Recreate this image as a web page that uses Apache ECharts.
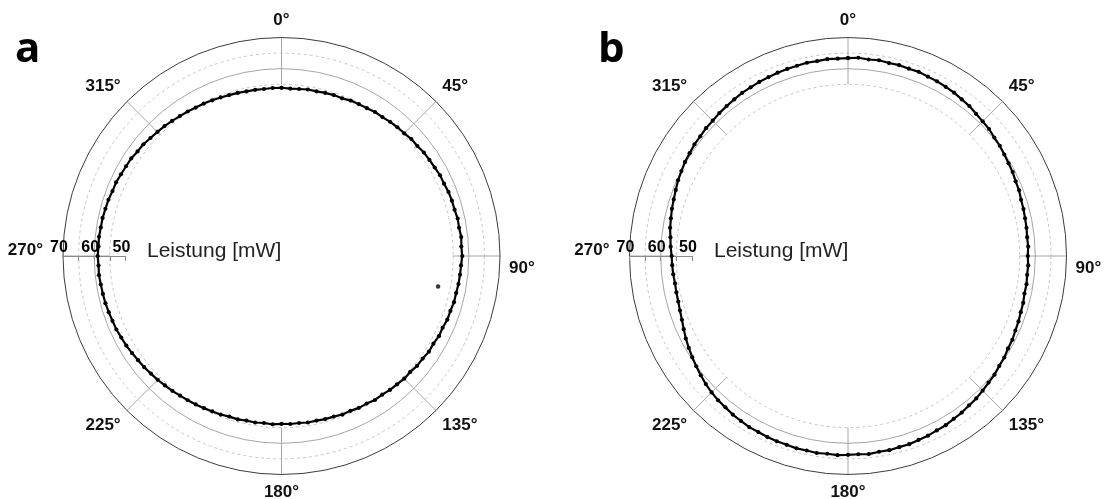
<!DOCTYPE html>
<html><head><meta charset="utf-8">
<script src="https://cdn.jsdelivr.net/npm/echarts@6/dist/echarts.min.js"></script>
<style>html,body{margin:0;padding:0;background:#fff}#c{width:1104px;height:499px}</style>
</head><body><div id="c"></div>
<script>
// angle (degrees, clockwise from top) of each measurement
const angles = [0,3,6,9,12,15,18,21,24,27,30,33,36,39,42,45,48,51,54,57,60,63,66,69,72,75,78,81,84,87,
  90,93,96,99,102,105,108,111,114,117,120,123,126,129,132,135,138,141,144,147,150,153,156,159,162,165,168,171,174,177,
  180,183,186,189,192,195,198,201,204,207,210,213,216,219,222,225,228,231,234,237,240,243,246,249,252,255,258,261,264,267,
  270,273,276,279,282,285,288,291,294,297,300,303,306,309,312,315,318,321,324,327,330,333,336,339,342,345,348,351,354,357];
// Leistung [mW], panel a
const powerA = [53.9,53.7,53.8,54.0,53.9,54.1,54.2,54.1,54.5,54.6,54.7,55.0,55.0,55.3,55.5,55.6,56.0,56.0,56.4,56.5,56.7,57.0,57.0,57.3,57.4,57.4,57.7,57.6,57.9,57.7,
  57.9,57.6,57.5,57.4,57.2,57.2,56.9,56.9,56.5,56.6,56.2,56.3,55.9,55.9,55.5,55.6,55.3,55.2,54.9,55.0,54.6,54.6,54.3,54.4,54.1,54.1,53.9,54.0,53.8,53.9,
  53.8,54.0,53.8,54.0,53.9,54.2,54.1,54.4,54.5,54.7,54.9,55.1,55.3,55.6,55.8,56.1,56.3,56.6,56.8,57.1,57.4,57.6,57.9,58.0,58.2,58.4,58.5,58.6,58.8,58.7,
  58.9,58.7,58.8,58.6,58.6,58.4,58.3,58.0,58.0,57.7,57.5,57.4,57.0,56.9,56.5,56.2,56.0,55.7,55.4,55.2,54.9,54.8,54.6,54.4,54.2,54.1,53.9,53.9,53.8,53.9];
// single stray point in panel a: [power, angle]
const strayA = [[51.1, 101]];
// Leistung [mW], panel b
const powerB = [63.4,63.6,63.3,63.5,63.2,63.3,63.1,63.2,62.9,62.8,62.6,62.4,62.0,61.8,61.3,61.0,60.8,60.3,60.1,59.7,59.4,59.2,58.8,58.7,58.3,58.2,58.0,57.9,57.7,57.8,
  57.6,57.8,57.7,57.9,57.8,58.1,58.2,58.5,58.7,59.1,59.2,59.7,59.9,60.4,60.6,61.0,61.4,61.6,62.0,62.2,62.6,62.7,63.0,63.1,63.4,63.4,63.6,63.5,63.8,63.6,
  63.7,63.9,63.7,63.9,63.7,63.8,63.6,63.6,63.5,63.3,63.3,63.0,62.8,62.4,62.2,61.8,61.3,60.7,60.1,59.5,58.9,58.3,57.6,57.0,56.6,56.3,56.2,56.1,56.3,56.4,
  56.5,56.9,57.2,57.7,58.0,58.4,58.7,59.1,59.6,59.9,60.3,60.5,60.8,60.9,61.2,61.3,61.6,61.8,62.0,62.3,62.4,62.6,62.7,62.9,63.0,63.1,63.3,63.2,63.4,63.3];
const radialLabels = [50, 60, 70];
const dashedRings = [55, 65];
const solidRing = 60;
const radialMax = 70;
const radialAxisMin = 50;
const spokeMin = 55;
const angleTickStep = 45;
const axisName = 'Leistung [mW]';
const panelLetters = ['a', 'b'];

const R = 218.5;
const CY = 256;
const panels = [
  {cx: 281.5, values: powerA, extra: strayA, letterX: 15, nameX: 147},
  {cx: 848, values: powerB, extra: [], letterX: 598, nameX: 714}
];

const polar = [], angleAxis = [], radiusAxis = [], series = [], graphic = [];
const hidden = {axisLine:{show:false}, axisTick:{show:false}, axisLabel:{show:false}, splitLine:{show:false}};
const degRich = {
  d: {color:'#111', fontWeight:'bold', fontSize:17, fontFamily:'Liberation Sans'},
  up: {color:'#111', fontWeight:'bold', fontSize:17, fontFamily:'Liberation Sans', padding:[0,11,12,0]},
  down: {color:'#111', fontWeight:'bold', fontSize:17, fontFamily:'Liberation Sans', padding:[24,0,0,0]}
};

panels.forEach((p, k) => {
  const b = k * 4;
  const center = [p.cx, CY];
  // 0: data polar
  polar.push({center, radius: R});
  angleAxis.push({polarIndex: b, type:'value', min:0, max:360, interval:angleTickStep, startAngle:90, clockwise:true,
    axisLine:{show:true, lineStyle:{color:'#3c3c3c', width:1}}, axisTick:{show:false}, splitLine:{show:false},
    axisLabel:{show:true, margin:9, rich:degRich,
      formatter: v => v === 270 ? '{up|' + v + '°}' : (v === 90 ? '{down|' + v + '°}' : '{d|' + v + '°}')}});
  radiusAxis.push(Object.assign({polarIndex: b, type:'value', min:0, max:radialMax}, hidden));
  // 1: annulus for spokes and dashed rings
  polar.push({center, radius: [R * spokeMin / radialMax, R]});
  angleAxis.push({polarIndex: b+1, type:'value', min:0, max:360, interval:angleTickStep, startAngle:90, clockwise:true,
    axisLine:{show:false}, axisTick:{show:false}, axisLabel:{show:false},
    splitLine:{show:true, lineStyle:{color:'#a6a6a6', width:1}}});
  radiusAxis.push({polarIndex: b+1, type:'value', min:spokeMin, max:radialMax, interval:5,
    axisLine:{show:false}, axisTick:{show:false}, axisLabel:{show:false},
    splitLine:{show:true, lineStyle:{color:[spokeMin,60,65,70].map(v => dashedRings.includes(v) ? '#c6c6c6' : 'rgba(0,0,0,0)'), type:[3,3], width:1}}});
  // 2: solid ring at 60
  polar.push({center, radius: R * solidRing / radialMax});
  angleAxis.push({polarIndex: b+2, type:'value', min:0, max:360, startAngle:90,
    axisLine:{show:true, lineStyle:{color:'#a6a6a6', width:1}}, axisTick:{show:false}, axisLabel:{show:false}, splitLine:{show:false}});
  radiusAxis.push(Object.assign({polarIndex: b+2, type:'value', min:0, max:solidRing}, hidden));
  // 3: radial scale drawn toward 270°
  polar.push({center, radius: [R * radialAxisMin / radialMax, R]});
  angleAxis.push(Object.assign({polarIndex: b+3, type:'value', min:0, max:360, startAngle:180}, hidden));
  radiusAxis.push({polarIndex: b+3, type:'value', min:radialAxisMin, max:radialMax, interval:5, z:6,
    axisLine:{show:true, lineStyle:{color:'#8a8a8a', width:1}},
    axisTick:{show:true, length:5, lineStyle:{color:'#8a8a8a', width:1}},
    splitLine:{show:false},
    axisLabel:{show:true, showMinLabel:true, showMaxLabel:true, margin:-16, color:'#000', fontWeight:'bold', fontSize:16,
      fontFamily:'Liberation Sans', padding:[0,8,0,0],
      formatter: v => radialLabels.includes(v) ? String(v) : ''}});

  const pts = angles.map((a, i) => [p.values[i], a]);
  pts.push(pts[0]);
  series.push({type:'line', coordinateSystem:'polar', polarIndex:b, data:pts, symbol:'circle', symbolSize:4.2,
    showSymbol:true, itemStyle:{color:'#000'}, lineStyle:{color:'#000', width:2.2}, z:10, animation:false});
  if (p.extra.length) {
    series.push({type:'scatter', coordinateSystem:'polar', polarIndex:b, data:p.extra, symbol:'circle', symbolSize:4.5,
      itemStyle:{color:'#000'}, z:10, animation:false});
  }
  graphic.push({type:'text', x:p.letterX, y:50, style:{text:panelLetters[k], font:'bold 42px "Open Sans"', fill:'#000', verticalAlign:'middle'}});
  graphic.push({type:'text', x:p.nameX, y:251, style:{text:axisName, font:'21px "Liberation Sans"', fill:'#222', verticalAlign:'middle'}});
});

const chart = echarts.init(document.getElementById('c'), null, {renderer:'canvas'});
chart.setOption({animation:false, backgroundColor:'#fff', polar, angleAxis, radiusAxis, series, graphic});
</script>
</body></html>
